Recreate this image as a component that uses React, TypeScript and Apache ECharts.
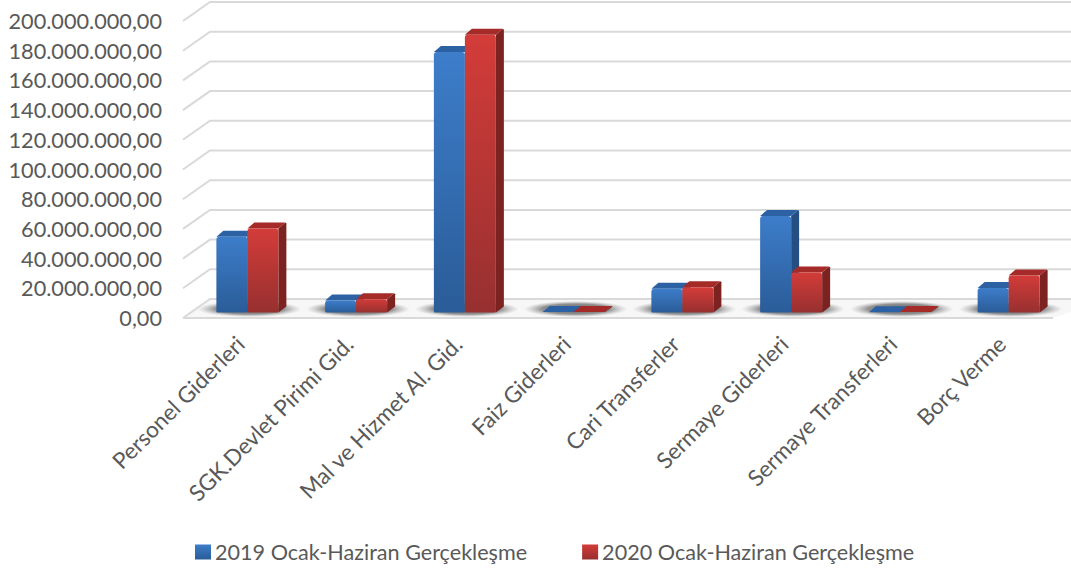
import React, { useEffect, useRef } from "react";
import * as echarts from "echarts";

const categories = ["Personel Giderleri", "SGK.Devlet Pirimi Gid.", "Mal ve Hizmet Al. Gid.", "Faiz Giderleri", "Cari Transferler", "Sermaye Giderleri", "Sermaye Transferleri", "Borç Verme"];
const values2019 = [51000000, 8000000, 175500000, 300000, 16000000, 65000000, 200000, 16500000];
const values2020 = [56500000, 9000000, 187000000, 400000, 17000000, 27000000, 300000, 25000000];
const gridTicks = [0, 20000000, 40000000, 60000000, 80000000, 100000000, 120000000, 140000000, 160000000, 180000000, 200000000];

const FONT = "Lato";
const TEXT = "#595959";
const LINE = "#d9d9d9";

const palettes = [
  { top: "#3d7dca", bottom: "#2a5c98", side: "#254f83", cap: "#2c62a3" },
  { top: "#d33c39", bottom: "#973030", side: "#7c2220", cap: "#a52b29" },
];

const fmt = (v: number) =>
  v.toLocaleString("de-DE", { minimumFractionDigits: 2, maximumFractionDigits: 2 });

function vGrad(a: string, b: string) {
  return new echarts.graphic.LinearGradient(0, 0, 0, 1, [
    { offset: 0, color: a },
    { offset: 1, color: b },
  ]);
}

const SHIFT = 7; // bars sit right of the label anchor

function barSeries(name: string, values: number[], idx: number) {
  const p = palettes[idx];
  const W = 31, DX = 8, DY = 6, LIFT = 5.5;
  return {
    name,
    type: "custom",
    z: 5,
    itemStyle: { color: vGrad(p.top, p.bottom) },
    data: values.map((v, i) => [i, v]),
    encode: { x: 0, y: 1 },
    renderItem: (_: any, api: any) => {
      const top = api.coord([api.value(0), api.value(1)]);
      const base = api.coord([api.value(0), 0]);
      const x = top[0] + SHIFT - W + idx * W;
      const y0 = base[1] - LIFT;
      const y1 = top[1] - LIFT;
      const h = y0 - y1;
      const children: any[] = [
        { type: "polygon", shape: { points: [[x + W, y0], [x + W + DX, y0 - DY], [x + W + DX, y1 - DY + 1], [x + W + DX - 1, y1 - DY], [x + W, y1]] }, style: { fill: p.side } },
        { type: "polygon", shape: { points: [[x, y1], [x + DX - 1, y1 - DY], [x + W + DX - 1, y1 - DY], [x + W, y1]] }, style: { fill: p.cap } },
      ];
      if (h > 2) {
        children.push({ type: "rect", shape: { x, y: y1, width: W, height: h, r: [3, 3, 1, 1] }, style: { fill: vGrad(p.top, p.bottom) } });
      }
      return { type: "group", children };
    },
  };
}

export default function App() {
  const ref = useRef<HTMLDivElement>(null);
  useEffect(() => {
    document.body.style.margin = "0";
    const chart = echarts.init(ref.current!, undefined, { renderer: "svg" });
    chart.setOption({
      animation: false,
      backgroundColor: "#ffffff",
      grid: { left: 186, right: 15, top: 21, bottom: 253 },
      legend: {
        left: 190,
        top: 536,
        itemWidth: 16,
        itemHeight: 15,
        itemGap: 55,
        icon: "rect",
        data: ["2019 Ocak-Haziran Gerçekleşme", "2020 Ocak-Haziran Gerçekleşme"],
        textStyle: { fontFamily: FONT, fontSize: 21.6, color: TEXT, padding: [0, 0, 0, -1] },
      },
      xAxis: {
        type: "category",
        data: categories,
        axisLine: { show: false },
        axisTick: { show: false },
        axisLabel: { interval: 0, rotate: 45, margin: 22, fontFamily: FONT, fontSize: 22.5, color: TEXT, align: "right", verticalAlign: "middle" },
      },
      yAxis: {
        type: "value",
        min: 0,
        max: 200000000,
        interval: 20000000,
        splitLine: { show: false },
        axisLine: { show: false },
        axisTick: { show: false },
        axisLabel: { margin: 24, fontFamily: FONT, fontSize: 21.7, color: TEXT, formatter: (v: number) => fmt(v) },
      },
      series: [
        {
          name: "frame",
          type: "custom",
          z: 1,
          silent: true,
          data: gridTicks.map((v) => [0, v]),
          encode: { x: 0, y: 1 },
          renderItem: (params: any, api: any) => {
            const cs = params.coordSys;
            const left = cs.x - 3;
            const right = left + 870;
            const y = api.coord([0, api.value(1)])[1];
            const style = { stroke: LINE, lineWidth: 2, fill: "none" };
            const kids: any[] = [
              { type: "polyline", shape: { points: [[left, y], [left + 27, y - 19], [1071, y - 19]] }, style },
            ];
            if (api.value(1) === 0) {
              kids.unshift({ type: "polygon", shape: { points: [[left, y], [left + 27, y - 19], [1071, y - 19], [1071, y - 6], [right, y]] }, style: { fill: "#f7f7f7" } });
              kids.push({ type: "line", shape: { x1: left, y1: y, x2: right, y2: y }, style });
            }
            return { type: "group", children: kids };
          },
        },
        {
          name: "shadow",
          type: "custom",
          z: 2,
          silent: true,
          data: categories.map((_, i) => [i, 0]),
          encode: { x: 0, y: 1 },
          renderItem: (_: any, api: any) => {
            const c = api.coord([api.value(0), 0]);
            return {
              type: "ellipse",
              shape: { cx: c[0] + SHIFT + 2, cy: c[1] - 9, rx: 52, ry: 8 },
              style: {
                fill: new echarts.graphic.RadialGradient(0.5, 0.5, 0.5, [
                  { offset: 0, color: "rgba(70,70,70,0.85)" },
                  { offset: 0.65, color: "rgba(90,90,90,0.65)" },
                  { offset: 1, color: "rgba(150,150,150,0)" },
                ]),
              },
            };
          },
        },
        barSeries("2019 Ocak-Haziran Gerçekleşme", values2019, 0),
        barSeries("2020 Ocak-Haziran Gerçekleşme", values2020, 1),
      ],
    });
    return () => chart.dispose();
  }, []);
  return <div ref={ref} style={{ width: 1071, height: 571 }} />;
}
